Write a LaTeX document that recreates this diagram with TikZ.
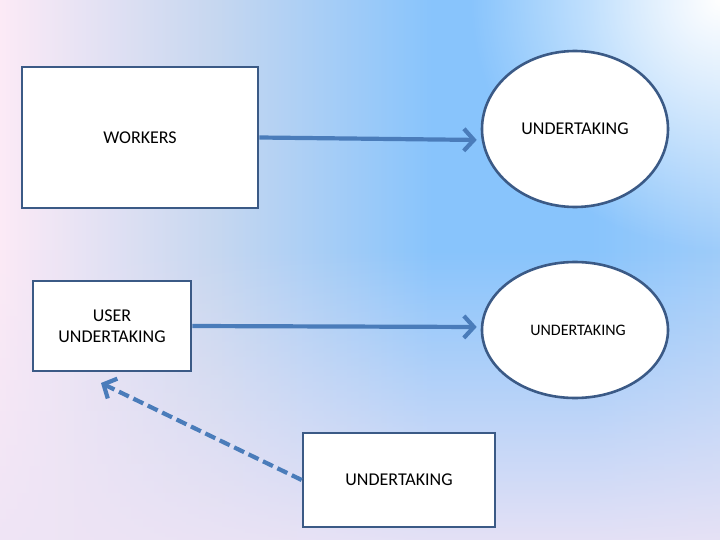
\documentclass[tikz,border=0pt]{standalone}
\usepackage{fontspec}
\setmainfont{Carlito}
\usetikzlibrary{shapes.geometric,arrows.meta,fadings}

\definecolor{bgpink}{HTML}{FCEAF6}
\definecolor{bgmid}{HTML}{C6D7F0}
\definecolor{bgblue}{HTML}{88C4FC}
\definecolor{bgright}{HTML}{9ECCFA}
\definecolor{bglav}{HTML}{EEE4F5}
\definecolor{boxline}{HTML}{3B5A86}
\definecolor{arrowblue}{HTML}{4A7CBA}

\pgfdeclarehorizontalshading{skyshade}{100bp}{color(0bp)=(bgpink); color(25bp)=(bgpink); color(40bp)=(bgmid); color(55bp)=(bgblue); color(66bp)=(bgblue); color(75bp)=(bgright); color(100bp)=(bgright)}
\tikzfading[name=glow, inner color=transparent!0, outer color=transparent!100]

\tikzset{
  box/.style={draw=boxline, line width=2.6pt, fill=white, align=center,
    font=\fontsize{18}{21}\selectfont},
  oval/.style={ellipse, draw=boxline, line width=2.6pt, fill=white,
    font=\fontsize{18}{21}\selectfont},
  flow/.style={draw=arrowblue, line width=4.2pt,
    -{Straight Barb[length=10pt,width=22pt]}},
}

\begin{document}
\begin{tikzpicture}[x=1pt,y=-1pt]
% Background
\useasboundingbox (0,0) rectangle (720,540);
\shade[shading=skyshade] (0,0) rectangle (720,540);
\fill[white, path fading=glow] (720,0) circle (250);
\fill[bglav, opacity=0.9, path fading=north] (0,250) rectangle (720,540);

% Boxes and ovals
\node[box, minimum width=236pt, minimum height=141pt] (workers) at (140,137.5) {WORKERS};
\node[box, minimum width=158pt, minimum height=90pt] (user) at (112,326) {USER\\UNDERTAKING};
\node[box, minimum width=192pt, minimum height=94pt] (lower) at (399,480) {UNDERTAKING};
\node[oval, minimum width=186pt, minimum height=156pt] (upper) at (575,129) {UNDERTAKING};
\node[oval, minimum width=186pt, minimum height=136pt, font=\fontsize{16}{19}\selectfont] (middle) at (575,330) {\hspace*{6pt}UNDERTAKING};

% Arrows
\coordinate (usertip) at (101,383);
\draw[flow, shorten >=4pt] (workers.east) -- ([yshift=-11pt]upper.west);
\draw[flow, shorten >=4pt] (user.east) -- ([yshift=3pt]middle.west);
\draw[flow, dash pattern=on 11pt off 5pt] (lower.west) -- (usertip);
\end{tikzpicture}
\end{document}
